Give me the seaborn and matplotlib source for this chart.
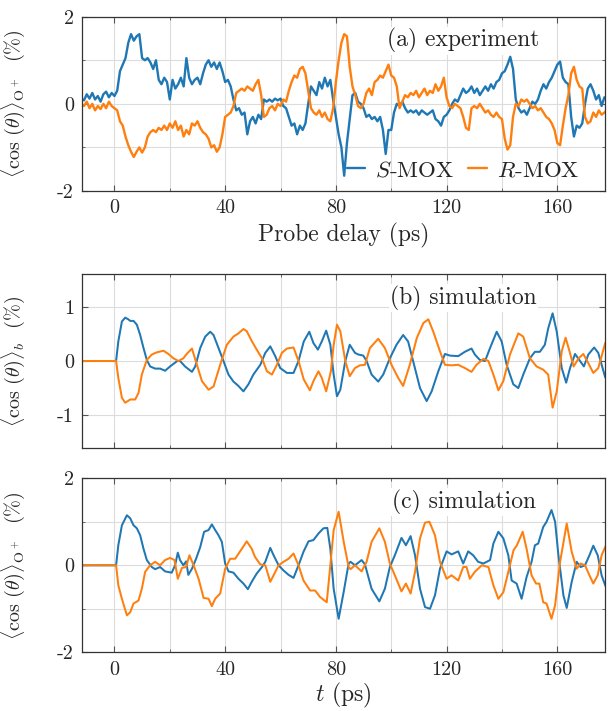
import numpy as np
import matplotlib
matplotlib.use("Agg")
import matplotlib.pyplot as plt
import seaborn as sns
from matplotlib.ticker import FixedLocator

# ---------------- data ----------------
t_exp = np.arange(-12, 179)  # 1 ps sampling grid
S_exp = [0.12, 0.08, 0.22, 0.12, 0.25, 0.1, 0.18, 0.05, 0.22, 0.28, 0.15, 0.25,
         0.18, 0.3, 0.75, 0.9, 1.05, 1.4, 1.6, 1.45, 1.55, 1.6, 1.05, 1.0,
         1.05, 0.95, 0.8, 1.0, 0.55, 0.45, 0.6, 0.5, 0.1, 0.55, 0.35, 0.45,
         0.6, 0.4, 1.05, 0.6, 0.45, 0.55, 0.6, 0.45, 0.7, 0.9, 1.0, 0.85,
         0.95, 0.8, 0.95, 0.75, 0.5, 0.55, 0.4, 0.1, -0.15, -0.1, -0.25, -0.2,
         -0.7, -0.4, -0.3, -0.45, -0.25, -0.35, 0.1, 0.05, 0.1, 0.05, 0.12, 0.08,
         0.12, -0.05, -0.1, -0.3, -0.5, -0.45, -0.7, -0.5, -0.6, -0.45, 0.0, 0.4,
         0.3, 0.2, 0.5, 0.35, 0.6, 0.4, 0.55, 0.1, -0.3, -0.7, -1.0, -1.65,
         -0.9, -0.35, 0.2, 0.25, 0.05, 0.0, -0.1, -0.3, -0.25, -0.35, -0.3, -0.4,
         -0.3, -0.6, -1.15, -0.6, -0.6, -0.2, 0.0, -0.05, 0.05, -0.1, -0.2, -0.15,
         -0.2, -0.15, -0.25, -0.15, -0.2, -0.25, -0.2, -0.15, -0.35, -0.4, -0.5, -0.3,
         -0.25, -0.15, 0.0, 0.1, 0.05, 0.2, 0.35, 0.25, 0.3, 0.4, 0.25, 0.35,
         0.2, 0.3, 0.4, 0.3, 0.45, 0.35, 0.5, 0.55, 0.7, 0.75, 0.9, 1.08,
         0.8, 0.1, -0.1, -0.2, -0.15, -0.25, -0.1, 0.05, 0.0, 0.1, 0.3, 0.45,
         0.35, 0.5, 0.6, 0.75, 0.9, 0.97, 0.6, 0.5, 0.45, -0.3, -0.75, -0.5,
         -0.55, -0.45, 0.0, 0.35, 0.45, 0.3, 0.1, 0.2, -0.05, 0.15, 0.1]
R_exp = [0.0, -0.05, 0.05, -0.1, 0.0, -0.15, -0.05, -0.12, 0.0, -0.1, 0.05, -0.05,
         -0.1, -0.15, -0.4, -0.5, -0.75, -0.95, -1.1, -1.22, -1.1, -1.0, -1.12, -1.0,
         -0.75, -0.65, -0.6, -0.65, -0.55, -0.6, -0.5, -0.6, -0.45, -0.55, -0.4, -0.6,
         -0.5, -0.75, -0.6, -0.7, -0.45, -0.5, -0.4, -0.55, -0.65, -0.7, -0.8, -1.0,
         -0.95, -1.1, -1.0, -0.7, -0.3, -0.25, -0.2, -0.05, 0.25, 0.3, 0.35, 0.3,
         0.4, 0.35, 0.3, 0.45, 0.55, 0.2, -0.3, -0.25, -0.1, -0.05, -0.15, 0.0,
         -0.05, 0.1, 0.05, 0.3, 0.5, 0.65, 0.6, 0.8, 0.85, 0.7, 0.3, -0.1,
         -0.2, -0.25, -0.15, -0.3, -0.2, -0.35, -0.4, -0.1, 0.5, 1.0, 1.4, 1.6,
         1.55, 0.85, 0.4, 0.2, -0.05, -0.1, 0.0, 0.25, 0.35, 0.2, 0.5, 0.55,
         0.65, 0.6, 0.75, 0.9, 0.65, 0.6, 0.4, -0.1, 0.05, 0.2, 0.15, 0.25,
         0.2, 0.3, 0.15, 0.25, 0.35, 0.2, 0.3, 0.25, 0.45, 0.3, 0.4, 0.6,
         0.15, -0.05, -0.1, 0.0, -0.05, -0.1, -0.3, -0.55, -0.6, -0.1, -0.05, -0.1,
         0.0, -0.1, -0.2, -0.15, -0.25, -0.3, -0.2, -0.3, -0.35, -0.8, -1.05, -0.95,
         -0.3, 0.0, -0.05, 0.1, 0.05, 0.1, 0.0, -0.1, -0.05, -0.15, -0.1, -0.2,
         -0.3, -0.35, -0.45, -0.6, -0.9, -0.95, -0.5, -0.1, 0.2, 0.7, 0.85, 0.55,
         0.4, 0.35, -0.3, -0.45, -0.4, -0.2, -0.3, -0.15, -0.25, -0.2, -0.15]

tb_S = [-12, 0.6, 1.4, 2.7, 3.9, 5.0, 5.7, 6.9, 8.1, 9.3, 10.5, 11.7, 12.9, 14.7, 16.5, 18.3, 20.1,
        22.7, 23.7, 25.5, 28.0, 29.2, 31.0, 32.8, 34.6, 35.8, 37.6, 39.4, 41.2, 43.0, 44.8, 46.6,
        48.4, 50.2, 52.7, 54.5, 56.3, 58.1, 59.9, 62.3, 64.7, 66.5, 68.4, 70.4, 71.9, 73.5, 74.9,
        76.5, 78.0, 79.2, 80.4, 81.6, 83.4, 85.0, 86.9, 88.1, 89.9, 91.1, 92.9, 95.3, 97.1, 99.5,
        101.9, 104.3, 106.1, 107.9, 110.4, 112.8, 114.6, 117.0, 119.4, 121.2, 124.2, 126.6, 129.0,
        130.2, 132.0, 133.9, 135.7, 138.1, 139.9, 141.7, 144.1, 145.9, 147.7, 150.1, 151.9, 153.7,
        155.5, 156.7, 158.3, 159.8, 161.6, 163.2, 164.6, 166.4, 168.2, 169.6, 171.2, 173.3, 174.8,
        177.3, 178]
vb_S = [0, 0, 0.36, 0.73, 0.8, 0.77, 0.74, 0.74, 0.67, 0.48, 0.24, 0.02, -0.1, -0.14, -0.14, -0.18, -0.1,
        0.0, 0.0, -0.1, -0.2, -0.1, 0.24, 0.45, 0.54, 0.48, 0.24, 0.0, -0.25, -0.38, -0.46, -0.56,
        -0.43, -0.25, -0.07, 0.15, 0.27, 0.09, -0.13, -0.22, -0.22, 0.0, 0.36, 0.54, 0.33, 0.21, 0.36,
        0.56, 0.3, -0.25, -0.65, -0.53, 0.0, 0.3, 0.15, 0.12, 0.1, 0.0, -0.25, -0.38, -0.25, 0.05,
        0.3, 0.48, 0.36, 0.0, -0.5, -0.74, -0.56, -0.19, 0.13, 0.1, 0.09, 0.17, 0.23,
        0.12, 0.02, 0.0, 0.24, 0.54, 0.36, -0.07, -0.43, -0.5, -0.25, 0.05, 0.17, 0.17,
        0.3, 0.6, 0.88, 0.54, -0.13, -0.4, -0.13, 0.13, 0.0, -0.1, 0.12, 0.25, 0.15,
        -0.3, -0.35]

tb_R = [-12, 0.6, 1.4, 2.7, 3.9, 5.7, 7.5, 8.7, 9.9, 11.7, 13.5, 15.3, 17.7, 19.5, 21.3, 23.1, 24.9,
        26.1, 28.0, 29.8, 31.6, 34.0, 35.8, 38.2, 40.6, 43.0, 44.8, 46.6, 47.8, 49.6, 51.4, 53.3,
        55.1, 56.9, 58.7, 60.5, 62.3, 64.7, 66.5, 68.4, 70.6, 71.9, 73.7, 74.9, 76.5, 78.2, 79.2,
        80.4, 81.6, 83.4, 85.0, 86.9, 88.7, 90.5, 92.3, 95.3, 97.7, 100.1, 102.5, 104.3, 106.7,
        109.2, 111.6, 113.4, 115.2, 117.6, 119.4, 121.8, 124.2, 126.6, 129.0, 130.8, 133.3, 135.1,
        136.9, 138.7, 140.5, 142.9, 145.9, 147.7, 150.1, 152.5, 154.9, 156.7, 158.3, 159.8, 161.6,
        163.0, 164.4, 165.9, 167.7, 169.4, 171.2, 173.0, 174.8, 177.3, 178]
vb_R = [0, 0, -0.31, -0.68, -0.77, -0.71, -0.71, -0.59, -0.25, 0.02, 0.12, 0.16, 0.19, 0.13, 0.05, 0.0, 0.05,
        0.13, 0.23, -0.07, -0.37, -0.53, -0.47, -0.07, 0.3, 0.45, 0.51, 0.59, 0.55, 0.37, 0.21, 0.05,
        -0.19, -0.25, -0.07, 0.15, 0.23, 0.25, 0.0, -0.34, -0.54, -0.37, -0.19, -0.31, -0.56, -0.19, 0.3,
        0.67, 0.55, 0.0, -0.28, -0.13, -0.08, -0.07, 0.24, 0.41, 0.24, -0.07, -0.31, -0.46, -0.07,
        0.42, 0.7, 0.77, 0.54, 0.18, -0.07, -0.08, -0.07, -0.13, -0.2, -0.07, 0.04, 0.0,
        -0.25, -0.54, -0.37, 0.12, 0.51, 0.45, 0.05, -0.1, -0.16, -0.25, -0.86, -0.56, 0.18,
        0.43, 0.18, -0.1, 0.05, 0.13, -0.04, -0.22, -0.13, 0.33, 0.38]

tc_S = [-12, 0.6, 1.4, 2.7, 4.5, 5.7, 6.9, 8.1, 9.3, 10.5, 11.7, 13.5, 14.7, 16.5, 18.3, 20.7, 21.9,
        22.9, 23.7, 24.9, 25.9, 26.7, 28.0, 29.5, 31.0, 32.4, 34.0, 35.2, 36.4, 37.6, 38.8, 40.0,
        41.2, 43.0, 44.8, 46.6, 48.2, 49.6, 51.4, 53.3, 54.5, 56.3, 57.5, 59.3, 61.1, 62.9, 64.7,
        66.5, 68.3, 70.1, 71.9, 73.7, 75.5, 76.9, 78.0, 79.2, 81.0, 82.8, 84.6, 85.3, 86.9, 89.3,
        90.5, 92.9, 95.7, 97.7, 99.5, 101.3, 103.7, 105.3, 107.0, 108.6, 110.4, 112.2, 114.0, 115.8,
        117.6, 120.0, 121.8, 124.2, 126.0, 127.8, 129.6, 131.4, 133.3, 135.7, 136.9, 138.7, 140.5,
        142.3, 143.5, 145.3, 147.1, 148.9, 150.7, 151.9, 153.1, 154.9, 156.1, 157.9, 159.2, 160.4,
        162.2, 163.4, 165.2, 167.0, 168.4, 170.0, 171.6, 173.0, 174.6, 176.0, 177.3, 178]
vc_S = [0, 0, 0.46, 0.92, 1.15, 1.08, 0.92, 0.85, 0.69, 0.38, 0.12, -0.04, -0.09, -0.04, -0.14, -0.17, 0.0,
        0.29, 0.12, 0.0, 0.09, -0.22, -0.08, 0.15, 0.42, 0.77, 0.81, 0.94, 0.81, 0.69, 0.54, 0.04,
        -0.14, -0.17, -0.31, -0.42, -0.55, -0.38, -0.19, -0.04, 0.08, 0.4, 0.23, 0.0, -0.12, -0.22, -0.29,
        0.0, 0.31, 0.55, 0.58, 0.73, 0.85, 0.86, 0.38, -0.54, -1.23, -0.62, 0.04, 0.08, 0.0, 0.12,
        0.02, -0.54, -0.83, -0.54, -0.04, 0.23, 0.63, 0.46, 0.67, 0.23, -0.54, -0.96, -1.0, -0.69,
        -0.08, 0.32, 0.25, 0.32, 0.04, 0.32, 0.23, 0.08, 0.04, 0.12, 0.5, 0.77, 0.62,
        0.23, -0.35, -0.42, -0.77, -0.27, 0.08, 0.46, 0.5, 0.88, 1.0, 1.27, 1.0, 0.23,
        -0.69, -0.98, -0.38, 0.08, -0.04, 0.0, 0.23, 0.45, 0.23, -0.23, -0.46, -0.55]

tc_R = [-12, 0.6, 1.4, 2.7, 4.5, 5.7, 6.9, 8.7, 9.9, 11.1, 12.9, 14.7, 16.5, 18.3, 20.1, 21.7, 22.9,
        24.4, 25.9, 27.1, 28.6, 30.4, 32.2, 34.0, 35.2, 36.4, 38.2, 40.0, 41.8, 43.6, 45.4, 47.8,
        49.6, 50.8, 52.7, 54.5, 56.3, 57.5, 59.3, 61.1, 62.9, 64.7, 66.5, 68.3, 70.7, 72.5, 74.3,
        76.7, 78.0, 79.2, 81.0, 82.8, 84.6, 85.3, 86.9, 89.3, 91.1, 92.9, 95.7, 97.7, 99.5, 101.3,
        103.7, 105.3, 107.0, 108.6, 110.4, 112.2, 113.8, 115.8, 117.6, 120.0, 121.8, 124.2, 126.0,
        127.2, 128.4, 130.2, 132.7, 135.1, 136.9, 138.7, 140.5, 142.3, 144.2, 145.4, 147.5, 148.9,
        150.7, 152.3, 153.5, 154.9, 156.1, 157.9, 159.2, 161.0, 163.4, 165.2, 167.0, 168.4, 170.0,
        171.6, 173.0, 174.6, 176.0, 177.3, 178]
vc_R = [0, 0, -0.46, -0.77, -1.15, -1.08, -0.88, -0.81, -0.54, -0.15, 0.0, 0.08, 0.0, 0.12, 0.17, 0.12, -0.31,
        -0.06, -0.04, 0.23, 0.0, -0.31, -0.75, -0.77, -0.94, -0.77, -0.65, -0.08, 0.15, 0.15, 0.32, 0.55,
        0.38, 0.19, 0.02, 0.0, -0.38, -0.23, 0.0, 0.08, 0.15, 0.27, 0.0, -0.35, -0.58, -0.58, -0.73,
        -0.85, 0.0, 0.81, 1.23, 0.55, -0.04, -0.09, 0.0, -0.14, 0.08, 0.54, 0.85, 0.54, 0.04, -0.23,
        -0.6, -0.42, -0.65, -0.15, 0.62, 0.98, 1.0, 0.69, 0.08, -0.31, -0.23, -0.35, -0.04,
        -0.04, -0.31, -0.15, 0.0, -0.04, -0.46, -0.77, -0.62, -0.15, 0.35, 0.46, 0.77, 0.38,
        -0.23, -0.42, -0.42, -0.85, -0.88, -1.23, -0.92, 0.08, 0.96, 0.31, -0.08, 0.04, 0.0,
        -0.23, -0.42, -0.23, 0.23, 0.42, 0.5]

x_ticks = [0, 40, 80, 120, 160]
labels = [r"$S$-MOX", r"$R$-MOX"]
panel_texts = ["(a) experiment", "(b) simulation", "(c) simulation"]

# ---------------- style ----------------
sns.set_theme(style="ticks")
plt.rcParams.update({
    "font.family": "serif",
    "font.serif": ["cmr10", "DejaVu Serif"],
    "mathtext.fontset": "cm",
    "axes.unicode_minus": False,
    "axes.formatter.use_mathtext": True,
    "font.size": 14.5,
    "axes.labelsize": 14.5,
    "xtick.labelsize": 14.5,
    "ytick.labelsize": 14.5,
    "legend.fontsize": 16.5,
})

BLUE = "#1f77b4"
ORANGE = "#ff7f0e"
LW = 1.45
LW_EXP = 1.7
TXT_FS = 17.0

fig = plt.figure(figsize=(6.08, 7.11), dpi=100)
L, W = 0.1354, 0.860
axa = fig.add_axes([L, 0.7314, W, 0.2451])
axb = fig.add_axes([L, 0.3703, W, 0.2439])
axc = fig.add_axes([L, 0.0826, W, 0.2447])

sns.lineplot(x=t_exp, y=S_exp, ax=axa, color=BLUE, lw=LW_EXP, label=labels[0], sort=False)
sns.lineplot(x=t_exp, y=R_exp, ax=axa, color=ORANGE, lw=LW_EXP, label=labels[1], sort=False)
sns.lineplot(x=tb_S, y=vb_S, ax=axb, color=BLUE, lw=LW, sort=False)
sns.lineplot(x=tb_R, y=vb_R, ax=axb, color=ORANGE, lw=LW, sort=False)
sns.lineplot(x=tc_S, y=vc_S, ax=axc, color=BLUE, lw=LW, sort=False)
sns.lineplot(x=tc_R, y=vc_R, ax=axc, color=ORANGE, lw=LW, sort=False)

for ax in (axa, axb, axc):
    for ln in ax.get_lines():
        ln.set_solid_joinstyle("round")
        ln.set_solid_capstyle("round")

ylab_O = r"$\langle\cos\,(\theta)\rangle_{\mathrm{O}^+}$  (%)"
ylab_b = r"$\langle\cos\,(\theta)\rangle_{b}$  (%)"

for ax, ylim, yt, ymin, txt in [
    (axa, (-2, 2), [-2, 0, 2], [-1, 1], panel_texts[0]),
    (axb, (-1.6, 1.6), [-1, 0, 1], [], panel_texts[1]),
    (axc, (-2, 2), [-2, 0, 2], [-1, 1], panel_texts[2]),
]:
    ax.set_xlim(-11.6, 177.3)
    ax.set_ylim(*ylim)
    ax.set_xticks(x_ticks)
    ax.xaxis.set_minor_locator(FixedLocator([20, 60, 100, 140]))
    ax.set_yticks(yt)
    ax.yaxis.set_minor_locator(FixedLocator(ymin))
    ax.set_yticklabels([str(v) for v in yt])
    ax.grid(which="both", color="#dcdcdc", lw=0.8)
    ax.set_axisbelow(True)
    ax.tick_params(which="both", direction="in", top=True, right=True, color="#555555")
    ax.tick_params(which="major", length=4, width=0.8, pad=6)
    ax.tick_params(which="minor", length=2.5, width=0.6)
    for sp in ax.spines.values():
        sp.set_color("#333333")
        sp.set_linewidth(0.9)
    ax.text(0.729, 0.862, txt, transform=ax.transAxes, ha="center", va="center",
            fontsize=TXT_FS, bbox=dict(facecolor="white", edgecolor="none", pad=1.0))
    ax.yaxis.set_label_coords(-0.106, 0.5)

axa.set_xticklabels([str(v) for v in x_ticks])
axa.set_xlabel("Probe delay (ps)", labelpad=4, fontsize=TXT_FS)
axb.set_xticklabels([])
axb.set_xlabel("")
axc.set_xticklabels([str(v) for v in x_ticks])
axc.set_xlabel(r"$t$ (ps)", labelpad=2, fontsize=TXT_FS)

axa.set_ylabel(ylab_O)
axb.set_ylabel(ylab_b)
axc.set_ylabel(ylab_O)

axa.legend(loc="center", bbox_to_anchor=(0.728, 0.12), ncol=2, frameon=False,
           handlelength=0.8, handletextpad=0.45, columnspacing=0.6, borderaxespad=0)

fig.savefig("out.png", dpi=100)
